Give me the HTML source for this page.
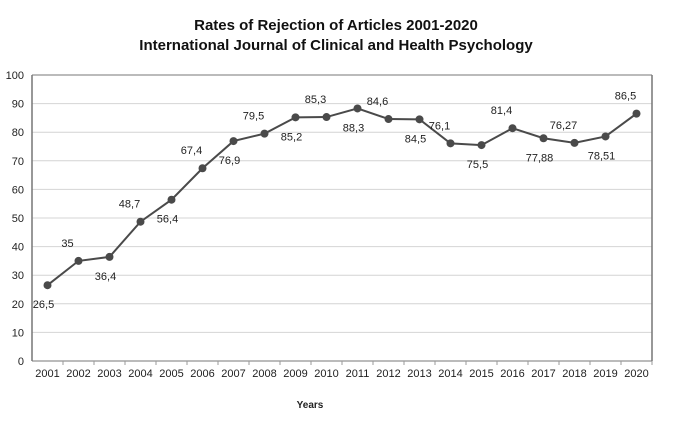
<!DOCTYPE html>
<html><head><meta charset="utf-8"><style>
body{margin:0;background:#fff;width:673px;height:420px;overflow:hidden;font-family:"Liberation Sans",Arial,sans-serif}
</style></head><body>
<svg id="chart" width="673" height="420" xmlns="http://www.w3.org/2000/svg" font-family="Liberation Sans, Arial, sans-serif">
<text x="336" y="30" text-anchor="middle" font-size="15" font-weight="bold" fill="#111">Rates of Rejection of Articles 2001-2020</text>
<text x="336" y="50" text-anchor="middle" font-size="15" font-weight="bold" fill="#111">International Journal of Clinical and Health Psychology</text>
<text x="310" y="408" text-anchor="middle" font-size="10" font-weight="bold" fill="#222">Years</text>
<g id="grid"></g><g id="axes"></g><g id="series"></g><g id="labels"></g>
</svg>
<script>
const categories=["2001","2002","2003","2004","2005","2006","2007","2008","2009","2010","2011","2012","2013","2014","2015","2016","2017","2018","2019","2020"];
const values=[26.5,35,36.4,48.7,56.4,67.4,76.9,79.5,85.2,85.3,88.3,84.6,84.5,76.1,75.5,81.4,77.88,76.27,78.51,86.5];
const valueLabels=["26,5","35","36,4","48,7","56,4","67,4","76,9","79,5","85,2","85,3","88,3","84,6","84,5","76,1","75,5","81,4","77,88","76,27","78,51","86,5"];
const labelAbove=[false,true,false,true,false,true,false,true,false,true,false,true,false,true,false,true,false,true,false,true];
const yTicks=[0,10,20,30,40,50,60,70,80,90,100];
const NS="http://www.w3.org/2000/svg";
const L=32,R=652,T=75,B=361;
const bw=(R-L)/categories.length;
const x=i=>L+bw*(i+0.5);
const y=v=>B-(v/100)*(B-T);
function mk(tag,attrs,parent){const e=document.createElementNS(NS,tag);for(const k in attrs)e.setAttribute(k,attrs[k]);document.getElementById(parent).appendChild(e);return e;}
yTicks.forEach(t=>{
  const g=mk('line',{x1:L,x2:R,y1:y(t),y2:y(t),stroke:t===0||t===100?'#777':'#d4d4d4','stroke-width':1},'grid');
  
  
  const lb=mk('text',{x:24,y:y(t)+4,'text-anchor':'end','font-size':11,fill:'#222'},'axes');
  lb.textContent=t;
  
  
});
const ya=mk('line',{x1:L,x2:L,y1:T,y2:B,stroke:'#777','stroke-width':1.5},'axes');


const ra=mk('line',{x1:R,x2:R,y1:T,y2:B,stroke:'#777','stroke-width':1.5},'axes');


categories.forEach((c,i)=>{
  const tk=mk('line',{x1:L+bw*(i+1),x2:L+bw*(i+1),y1:B,y2:B+4,stroke:'#999'},'axes');
  
  
  const lb=mk('text',{x:x(i),y:B+16,'text-anchor':'middle','font-size':11,fill:'#222'},'axes');
  lb.textContent=c;
  
  
});
const pl=mk('polyline',{points:values.map((v,i)=>x(i)+','+y(v)).join(' '),fill:'none',stroke:'#4a4a4a','stroke-width':2},'series');


values.forEach((v,i)=>{
  const c=mk('circle',{cx:x(i),cy:y(v),r:4,fill:'#4a4a4a'},'series');
  
  
  const up=labelAbove[i];
  const t=mk('text',{x:x(i)+(up?-11:-4),y:y(v)+(up?-14:23),'text-anchor':'middle','font-size':11,fill:'#222'},'labels');
  t.textContent=valueLabels[i];
  
  
});
</script>
</body></html>
